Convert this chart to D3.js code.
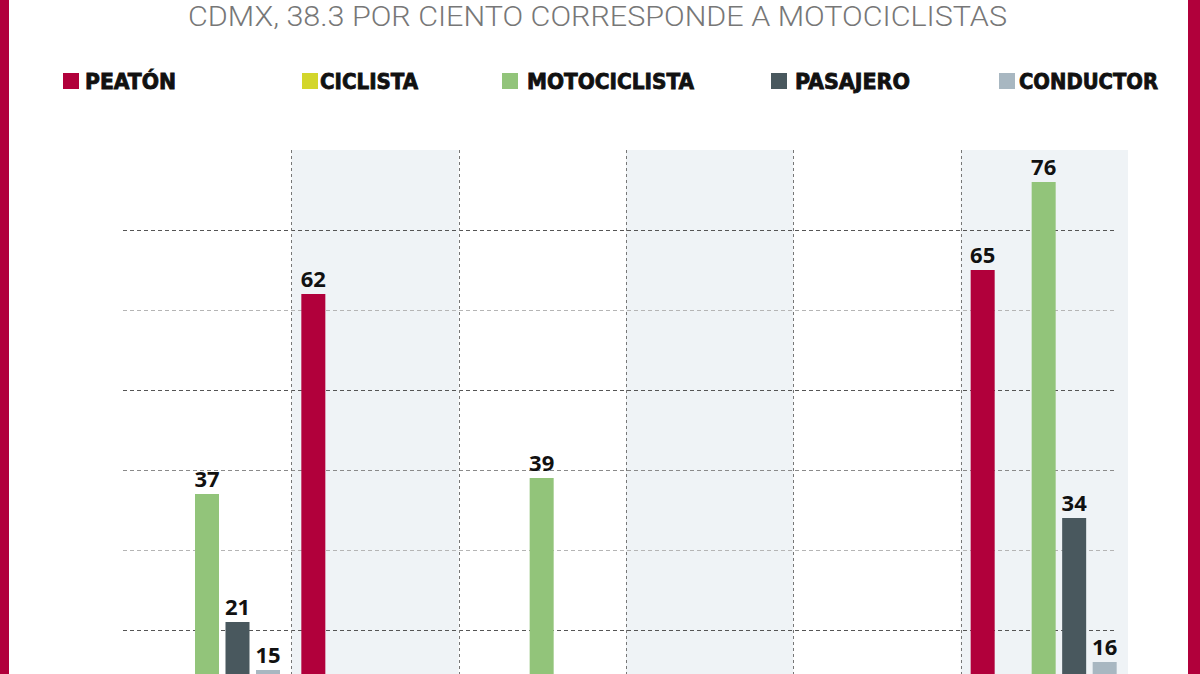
<!DOCTYPE html>
<html>
<head>
<meta charset="utf-8">
<script src="https://cdn.jsdelivr.net/npm/d3@7"></script>
<style>
  html, body { margin: 0; padding: 0; background: #fff; }
  svg { display: block; overflow: hidden; }
</style>
</head>
<body>
<div id="chart"></div>
<script>
// Datos
const categories = ["Entidad A", "Entidad B", "Entidad C", "Entidad D", "Entidad E", "CDMX"];
const series = ["PEATÓN", "CICLISTA", "MOTOCICLISTA", "PASAJERO", "CONDUCTOR"];
const peaton = [6, 62, 5, 4, 3, 65];
const ciclista = [1, 2, 1, 0, 1, 7];
const motociclista = [37, 9, 39, 6, 5, 76];
const pasajero = [21, 5, 8, 3, 2, 34];
const conductor = [15, 4, 6, 2, 2, 16];
const yTicks = [10, 20, 30, 40, 50, 60, 70];
const title = "CDMX, 38.3 POR CIENTO CORRESPONDE A MOTOCICLISTAS";

const colors = ["#b1003b", "#d3d62b", "#92c47a", "#49585e", "#a8b7c1"];
const values = [peaton, ciclista, motociclista, pasajero, conductor];

const width = 1200;
const height = 674;

const svg = d3.select("#chart")
    .append("svg")
    .attr("width", width)
    .attr("height", height);

// Escalas
const x0 = d3.scaleBand()
    .domain(categories)
    .range([124, 1128])
    .paddingInner(0);

const x1 = d3.scaleBand()
    .domain(series)
    .range([10, 156])
    .paddingInner(0.213)
    .paddingOuter(0);

// La base del eje queda por debajo del recorte de la imagen
const y = d3.scaleLinear()
    .domain([0, 80])
    .range([790, 150]);

// Franjas sombreadas
svg.append("g")
    .selectAll("rect")
    .data(categories.filter((d, i) => i % 2 === 1))
    .enter().append("rect")
    .attr("x", d => x0(d))
    .attr("y", y(80))
    .attr("width", x0.bandwidth())
    .attr("height", y(0) - y(80))
    .attr("fill", "#eff3f6");

// Líneas horizontales
const gridShade = { 10: "#555", 20: "#555", 30: "#b5b5b5", 40: "#8a8a8a", 50: "#555", 60: "#b5b5b5", 70: "#555" };
svg.append("g")
    .selectAll("line")
    .data(yTicks)
    .enter().append("line")
    .attr("x1", 123)
    .attr("x2", 1115)
    .attr("y1", d => Math.round(y(d)) + 0.5)
    .attr("y2", d => Math.round(y(d)) + 0.5)
    .attr("stroke", d => gridShade[d])
    .attr("stroke-width", 1)
    .attr("stroke-dasharray", "4,3");

// Líneas verticales entre grupos
svg.append("g")
    .selectAll("line")
    .data(categories.slice(1))
    .enter().append("line")
    .attr("x1", d => Math.round(x0(d)) + 0.5)
    .attr("x2", d => Math.round(x0(d)) + 0.5)
    .attr("y1", y(80))
    .attr("y2", y(0))
    .attr("stroke", "#777")
    .attr("stroke-width", 1)
    .attr("stroke-dasharray", "3,3");

// Barras
const groups = svg.append("g")
    .selectAll("g")
    .data(categories)
    .enter().append("g")
    .attr("transform", d => `translate(${x0(d)},0)`);

const cells = groups.selectAll("g")
    .data((c, ci) => series.map((s, si) => ({ s: s, v: values[si][ci], color: colors[si] })))
    .enter().append("g");

cells.append("rect")
    .attr("x", d => x1(d.s))
    .attr("y", d => y(d.v))
    .attr("width", x1.bandwidth())
    .attr("height", d => y(0) - y(d.v))
    .attr("fill", d => d.color);

// Etiquetas de valor (solo las que caen dentro del recorte)
cells.filter(d => y(d.v) - 7 < height)
    .append("text")
    .attr("x", d => x1(d.s) + x1.bandwidth() / 2)
    .attr("y", d => y(d.v) - 7)
    .attr("text-anchor", "middle")
    .attr("font-family", "'Open Sans', 'Noto Sans', sans-serif")
    .attr("font-weight", 700)
    .attr("font-size", 22)
    .attr("fill", "#111")
    .text(d => d.v);

// Título
svg.append("text")
    .attr("x", 188)
    .attr("y", 26)
    .attr("textLength", 819)
    .attr("lengthAdjust", "spacingAndGlyphs")
    .attr("font-family", "Roboto, 'Noto Sans', sans-serif")
    .attr("font-weight", 300)
    .attr("font-size", 28)
    .attr("fill", "#777")
    .text(title);

// Leyenda
const legendSquareX = [63, 302, 502, 771, 999];
const legendTextX = [85, 320, 527, 795, 1019];
const legendTextW = [91, 98, 167, 115, 139];

const legend = svg.append("g")
    .selectAll("g")
    .data(series)
    .enter().append("g");

legend.append("rect")
    .attr("x", (d, i) => legendSquareX[i])
    .attr("y", 73)
    .attr("width", 16)
    .attr("height", 16)
    .attr("fill", (d, i) => colors[i]);

legend.append("text")
    .attr("x", (d, i) => legendTextX[i])
    .attr("y", 89)
    .attr("textLength", (d, i) => legendTextW[i])
    .attr("lengthAdjust", "spacingAndGlyphs")
    .attr("font-family", "'DejaVu Sans Condensed', 'DejaVu Sans', sans-serif")
    .attr("font-weight", 700)
    .attr("font-size", 22)
    .attr("fill", "#111")
    .attr("stroke", "#111")
    .attr("stroke-width", 0.8)
    .text(d => d);

// Bordes rojos
svg.append("rect")
    .attr("x", 0).attr("y", 0)
    .attr("width", 9).attr("height", height)
    .attr("fill", "#b1003b");

svg.append("rect")
    .attr("x", 1188).attr("y", 0)
    .attr("width", 12).attr("height", height)
    .attr("fill", "#b1003b");
</script>
</body>
</html>
